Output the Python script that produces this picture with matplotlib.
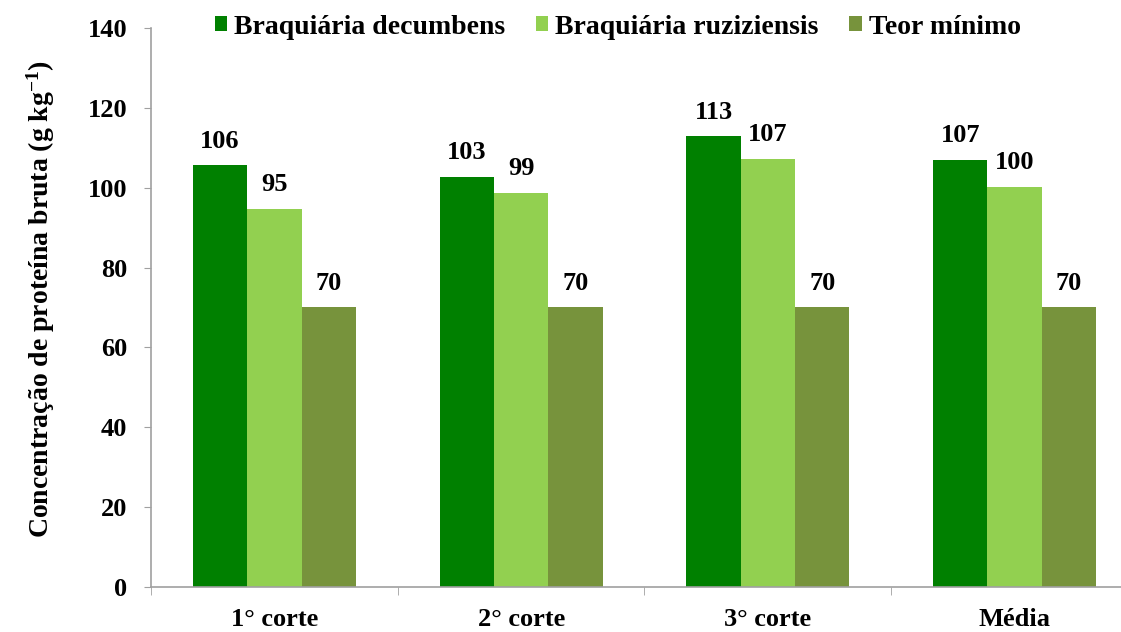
import numpy as np
import matplotlib.pyplot as plt

# Data
categorias = ['1° corte', '2° corte', '3° corte', 'Média']
decumbens = [105.6, 102.8, 112.9, 107.0]
ruziziensis = [94.7, 98.7, 107.2, 100.2]
teor_minimo = [70, 70, 70, 70]

series = ['Braquiária decumbens', 'Braquiária ruziziensis', 'Teor mínimo']
cores = ['#008000', '#92D050', '#77933C']

plt.rcParams['font.family'] = ['Liberation Serif', 'DejaVu Serif']
plt.rcParams['font.weight'] = 'bold'
plt.rcParams['mathtext.default'] = 'regular'

fig = plt.figure(figsize=(11.21, 6.32), dpi=100)
# axes runs slightly past the right edge, as in the original
ax = fig.add_axes([151 / 1121, 45 / 632, 987 / 1121, 559 / 632])

x = np.arange(len(categorias))
largura = 0.22
for i, (vals, nome, cor) in enumerate(zip([decumbens, ruziziensis, teor_minimo], series, cores)):
    pos = x + (i - 1) * largura
    barras = ax.bar(pos, vals, width=largura, color=cor, label=nome)
    for b, v in zip(barras, vals):
        ax.annotate(f'{v:.0f}', (b.get_x() + b.get_width() / 2, v),
                    xytext=(0, 9), textcoords='offset points',
                    ha='center', va='bottom', fontsize=19, fontweight='bold')

ax.set_xlim(-0.5, 3.5)
ax.set_ylim(0, 140)
ax.set_yticks(range(0, 141, 20))
ax.tick_params(axis='y', labelsize=19, length=5, color='#A0A0A0', pad=12)

ax.set_xticks(x)
ax.set_xticklabels(categorias, fontsize=19, fontweight='bold')
ax.set_xticks(np.arange(-0.5, 4, 1), minor=True)
ax.tick_params(axis='x', which='major', length=0, pad=15)
ax.tick_params(axis='x', which='minor', length=6, color='#A0A0A0')

for s in ['top', 'right']:
    ax.spines[s].set_visible(False)
for s in ['left', 'bottom']:
    ax.spines[s].set_color('#A0A0A0')
    ax.spines[s].set_linewidth(1.2)

ax.set_ylabel('Concentração de proteína bruta (g kg$^{-1}$)', fontsize=20,
              fontweight='bold', labelpad=10)
ax.yaxis.set_label_coords(-0.095, 0.515)

fig.legend(loc='center', bbox_to_anchor=(0.551, 1 - 27 / 632), ncol=3, frameon=False,
           handlelength=0.45, handleheight=0.45, handletextpad=0.25,
           columnspacing=1.1, prop={'weight': 'bold', 'size': 20})

plt.savefig('out.png', dpi=100)
